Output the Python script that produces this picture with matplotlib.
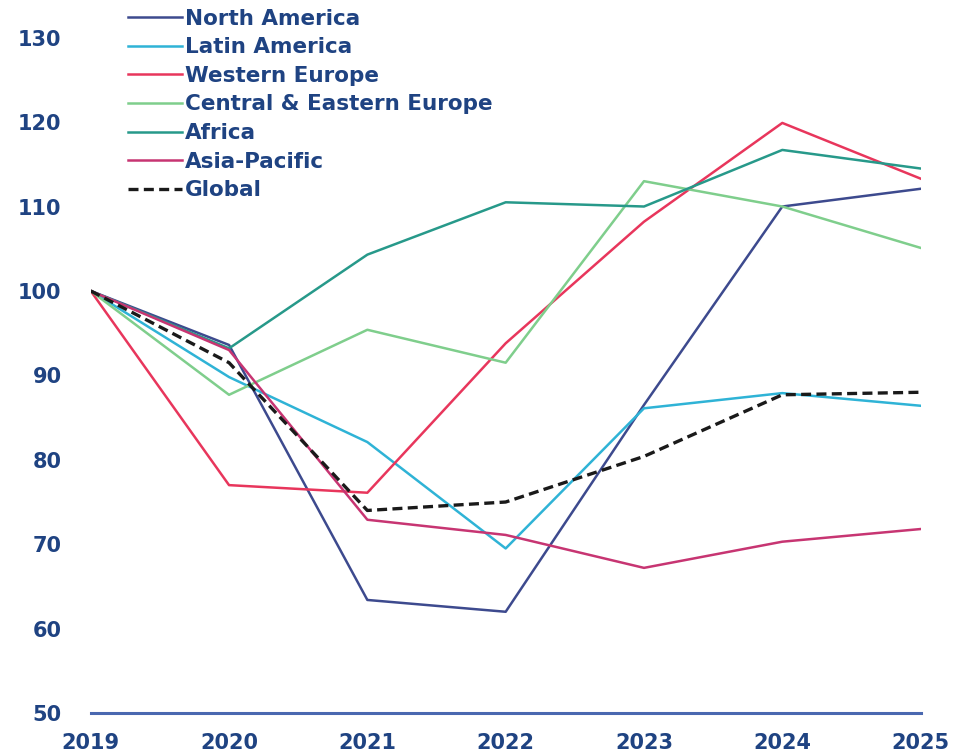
import numpy as np
import matplotlib.pyplot as plt

# --- values (index, 2019 = 100) ---
YEARS = [2019, 2020, 2021, 2022, 2023, 2024, 2025]

north_america = [100, 93.6, 63.4, 62.0, 86.5, 110.0, 112.1]
latin_america = [100, 89.8, 82.1, 69.5, 86.1, 87.9, 86.4]
western_europe = [100, 77.0, 76.1, 93.8, 108.2, 119.9, 113.3]
cee_europe = [100, 87.7, 95.4, 91.5, 113.0, 110.0, 105.1]
africa = [100, 93.2, 104.3, 110.5, 110.0, 116.7, 114.5]
asia_pacific = [100, 93.0, 72.9, 71.1, 67.2, 70.3, 71.8]
global_idx = [100, 91.5, 74.0, 75.0, 80.4, 87.7, 88.0]

Y_TICKS = [50, 60, 70, 80, 90, 100, 110, 120, 130]

TEXT_COLOR = "#1f4382"
AXIS_COLOR = "#4a68b0"

series = [
    ("North America",            north_america,  "#3d4a8e"),
    ("Latin America",            latin_america,  "#2fb3d6"),
    ("Western Europe",           western_europe, "#e8365c"),
    ("Central & Eastern Europe", cee_europe,     "#7fce8c"),
    ("Africa",                   africa,         "#27998a"),
    ("Asia-Pacific",             asia_pacific,   "#c73572"),
]

plt.rcParams["font.family"] = ["DejaVu Sans"]

fig = plt.figure(figsize=(9.55, 7.53), dpi=100)
ax = fig.add_axes([0.095, 0.053, 0.869, 0.897])

handles = []
for name, vals, color in series:
    h, = ax.plot(YEARS, vals, color=color, linewidth=1.8, label=name)
    handles.append(h)
h, = ax.plot(YEARS, global_idx, color="#1a1a1a", linewidth=2.4,
             linestyle=(0, (3, 1.6)), label="Global")
handles.append(h)

ax.set_xlim(2019, 2025)
ax.set_ylim(50, 130)
ax.set_yticks(Y_TICKS)
ax.set_xticks(YEARS)

for side in ["top", "right", "left"]:
    ax.spines[side].set_visible(False)
ax.spines["bottom"].set_color(AXIS_COLOR)
ax.spines["bottom"].set_linewidth(2.2)
ax.tick_params(axis="both", length=0, labelsize=15, labelcolor=TEXT_COLOR)
ax.tick_params(axis="y", pad=21)
ax.tick_params(axis="x", pad=14)
for lab in ax.get_xticklabels() + ax.get_yticklabels():
    lab.set_fontweight("bold")

leg = fig.legend(handles=handles, loc="upper left", bbox_to_anchor=(0.125, 1.0),
                 frameon=False, fontsize=15.5, handlelength=2.5, handletextpad=0.15,
                 labelspacing=0.4, borderaxespad=0.0)
for t in leg.get_texts():
    t.set_color(TEXT_COLOR)
    t.set_fontweight("bold")

fig.savefig("out.png", dpi=100)
